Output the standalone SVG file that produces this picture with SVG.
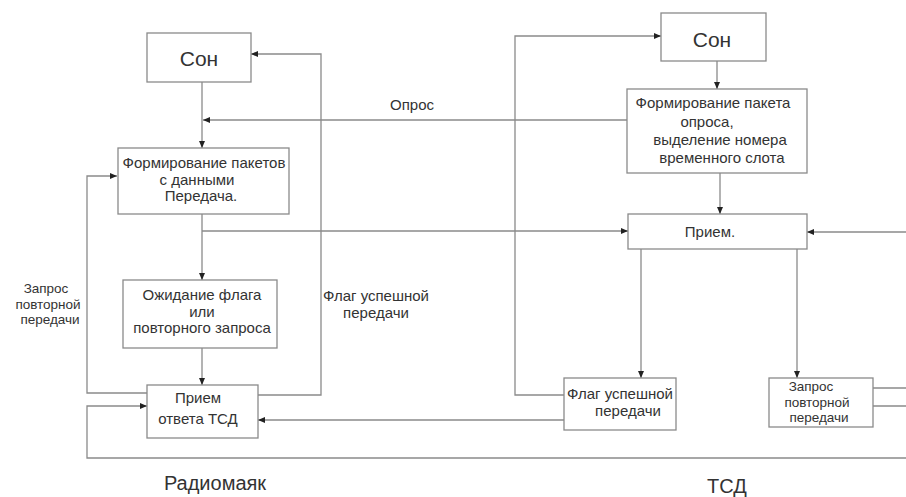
<svg xmlns="http://www.w3.org/2000/svg" width="906" height="497" viewBox="0 0 906 497">
<defs>
<marker id="ah" markerUnits="userSpaceOnUse" markerWidth="7" markerHeight="6" refX="7" refY="3" orient="auto">
<path d="M0,0 L7,3 L0,6 z" fill="#222"/>
</marker>
<style>
.box{fill:#fff;stroke:#8a8a8a;stroke-width:1.3}
.ln{fill:none;stroke:#8a8a8a;stroke-width:1.3}
.ar{marker-end:url(#ah)}
text{font-family:"Liberation Sans",Arial,sans-serif;fill:#333;text-anchor:middle}
.t{font-size:15px}
.s{font-size:13.5px}
.big{font-size:21px}
.ft{font-size:20px}
</style>
</defs>
<rect width="906" height="497" fill="#fff"/>
<g id="connectors">
<path class="ln ar" d="M202,82 V148"/>
<path class="ln ar" d="M627,120 H203"/>
<path class="ln ar" d="M202,214 V280"/>
<path class="ln ar" d="M202,231 H628"/>
<path class="ln ar" d="M202,348 V385"/>
<path class="ln ar" d="M258,395 H321 V54 H251"/>
<path class="ln ar" d="M147,393 H87 V176 H117"/>
<path class="ln ar" d="M906,458 H87 V406 H147"/>
<path class="ln ar" d="M564,420 H258"/>
<path class="ln ar" d="M564,395 H515 V36 H661"/>
<path class="ln ar" d="M717,61 V89"/>
<path class="ln ar" d="M720,173 V214"/>
<path class="ln ar" d="M906,232 H807"/>
<path class="ln ar" d="M641,249 V378"/>
<path class="ln ar" d="M797,249 V378"/>
<path class="ln" d="M873,388 H906 M873,406 H906"/>
<text class="t" x="412" y="110">Опрос</text>
<text class="s" x="46" y="293">Запрос</text>
<text class="s" x="48" y="308.5">повторной</text>
<text class="s" x="50" y="324">передачи</text>
<text class="t" x="376" y="301">Флаг успешной</text>
<text class="t" x="376" y="318">передачи</text>
</g>
<g id="son-left">
<rect class="box" x="147" y="33" width="104" height="49"/>
<text class="big" x="199" y="66">Сон</text>
</g>
<g id="form-left">
<rect class="box" x="118" y="148" width="171" height="66"/>
<text class="t" x="204" y="168">Формирование пакетов</text>
<text class="t" x="197" y="184.5">с данными</text>
<text class="t" x="201" y="201">Передача.</text>
</g>
<g id="wait-left">
<rect class="box" x="123" y="280" width="154" height="68"/>
<text class="t" x="202" y="300">Ожидание флага</text>
<text class="t" x="202" y="316.5">или</text>
<text class="t" x="202" y="333">повторного запроса</text>
</g>
<g id="recv-left">
<rect class="box" x="147" y="385" width="111" height="53"/>
<text class="t" x="198" y="403">Прием</text>
<text class="t" x="198" y="424">ответа ТСД</text>
</g>
<g id="son-right">
<rect class="box" x="661" y="13" width="105" height="48"/>
<text class="big" x="712" y="47">Сон</text>
</g>
<g id="form-right">
<rect class="box" x="627" y="89" width="180" height="84"/>
<text class="t" x="713" y="108">Формирование пакета</text>
<text class="t" x="707" y="127">опроса,</text>
<text class="t" x="720" y="145">выделение номера</text>
<text class="t" x="722" y="163">временного слота</text>
</g>
<g id="recv-right">
<rect class="box" x="628" y="214" width="179" height="35"/>
<text class="t" x="710" y="237">Прием.</text>
</g>
<g id="flag-right">
<rect class="box" x="564" y="378" width="112" height="52"/>
<text class="t" x="620" y="399">Флаг успешной</text>
<text class="t" x="628" y="416">передачи</text>
</g>
<g id="req-right">
<rect class="box" x="769" y="378" width="104" height="49"/>
<text class="s" x="811" y="391">Запрос</text>
<text class="s" x="817" y="406.5">повторной</text>
<text class="s" x="819" y="422">передачи</text>
</g>
<g id="footer">
<text class="ft" x="215" y="490">Радиомаяк</text>
<text class="ft" x="727" y="493">ТСД</text>
</g>
</svg>
